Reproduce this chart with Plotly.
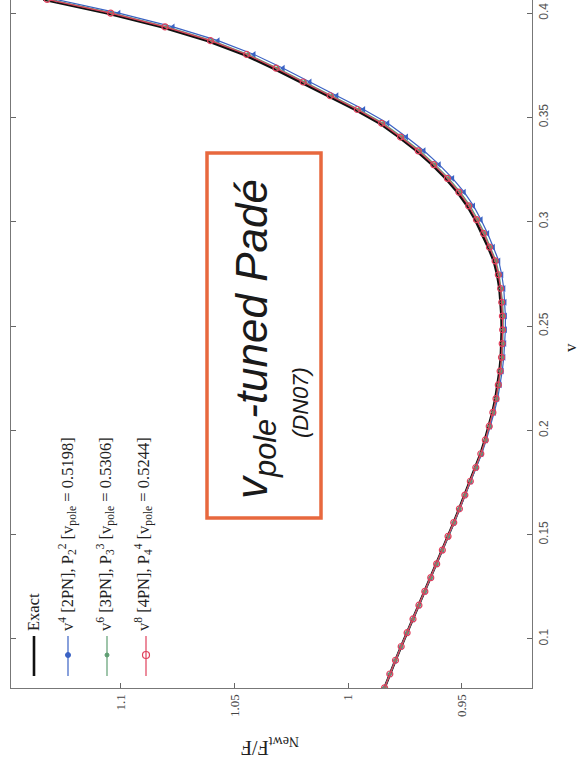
import plotly.graph_objects as go

# ---------------- data ----------------
v_vals = [0.0766, 0.0832, 0.0898, 0.0964, 0.1030, 0.1096, 0.1162, 0.1228, 0.1294, 0.1360,
          0.1426, 0.1492, 0.1558, 0.1624, 0.1690, 0.1756, 0.1822, 0.1888, 0.1954, 0.2020,
          0.2086, 0.2152, 0.2218, 0.2284, 0.2350, 0.2416, 0.2482, 0.2548, 0.2614, 0.2680,
          0.2746, 0.2812, 0.2878, 0.2944, 0.3010, 0.3076, 0.3142, 0.3208, 0.3274, 0.3340,
          0.3406, 0.3472, 0.3538, 0.3604, 0.3670, 0.3736, 0.3802, 0.3868, 0.3934, 0.4000,
          0.4066]

exact = [0.9840, 0.9817, 0.9792, 0.9767, 0.9741, 0.9715, 0.9689, 0.9663, 0.9637, 0.9611,
         0.9586, 0.9561, 0.9536, 0.9512, 0.9488, 0.9464, 0.9440, 0.9418, 0.9399, 0.9382,
         0.9366, 0.9353, 0.9343, 0.9335, 0.9329, 0.9326, 0.9325, 0.9326, 0.9329, 0.9335,
         0.9345, 0.9360, 0.9385, 0.9412, 0.9442, 0.9477, 0.9520, 0.9572, 0.9632, 0.9700,
         0.9778, 0.9862, 0.9970, 1.0090, 1.0210, 1.0330, 1.0460, 1.0620, 1.0820, 1.1060,
         1.1340]

pade_v4 = [0.9840, 0.9817, 0.9792, 0.9767, 0.9741, 0.9715, 0.9689, 0.9662, 0.9636, 0.9610,
           0.9585, 0.9559, 0.9534, 0.9510, 0.9485, 0.9461, 0.9436, 0.9413, 0.9393, 0.9375,
           0.9358, 0.9343, 0.9332, 0.9323, 0.9316, 0.9312, 0.9309, 0.9309, 0.9311, 0.9316,
           0.9325, 0.9338, 0.9362, 0.9387, 0.9416, 0.9449, 0.9490, 0.9541, 0.9600, 0.9667,
           0.9744, 0.9826, 0.9932, 1.0050, 1.0168, 1.0286, 1.0414, 1.0572, 1.0770, 1.1008,
           1.1286]

pade_v6 = [0.9840, 0.9817, 0.9792, 0.9767, 0.9741, 0.9715, 0.9689, 0.9663, 0.9637, 0.9611,
           0.9586, 0.9560, 0.9535, 0.9511, 0.9487, 0.9463, 0.9438, 0.9416, 0.9396, 0.9379,
           0.9362, 0.9348, 0.9338, 0.9330, 0.9323, 0.9320, 0.9318, 0.9318, 0.9321, 0.9327,
           0.9336, 0.9350, 0.9374, 0.9400, 0.9430, 0.9464, 0.9507, 0.9558, 0.9618, 0.9685,
           0.9763, 0.9846, 0.9953, 1.0072, 1.0191, 1.0310, 1.0439, 1.0598, 1.0797, 1.1036,
           1.1315]

pade_v8 = [0.9840, 0.9817, 0.9792, 0.9767, 0.9741, 0.9715, 0.9689, 0.9663, 0.9637, 0.9611,
           0.9586, 0.9561, 0.9536, 0.9511, 0.9487, 0.9463, 0.9439, 0.9417, 0.9397, 0.9380,
           0.9364, 0.9350, 0.9340, 0.9332, 0.9326, 0.9323, 0.9321, 0.9322, 0.9325, 0.9330,
           0.9340, 0.9354, 0.9379, 0.9405, 0.9436, 0.9470, 0.9513, 0.9564, 0.9624, 0.9692,
           0.9770, 0.9853, 0.9960, 1.0079, 1.0198, 1.0317, 1.0446, 1.0605, 1.0805, 1.1044,
           1.1323]

series_names = [
    "Exact",
    "v<sup>4</sup> [2PN], P<sub>2</sub><sup>2</sup> [v<sub>pole</sub> = 0.5198]",
    "v<sup>6</sup> [3PN], P<sub>3</sub><sup>3</sup> [v<sub>pole</sub> = 0.5306]",
    "v<sup>8</sup> [4PN], P<sub>4</sub><sup>4</sup> [v<sub>pole</sub> = 0.5244]",
]
series_colors = ["#111111", "#3a62c4", "#5f9e72", "#e0405c"]

v_ticks = [0.1, 0.15, 0.2, 0.25, 0.3, 0.35, 0.4]
v_ticklabels = ["0.1", "0.15", "0.2", "0.25", "0.3", "0.35", "0.4"]
f_ticks = [0.95, 1.0, 1.05, 1.1]
f_ticklabels = ["0.95", "1", "1.05", "1.1"]

# ---------------- geometry (pixels) ----------------
W, H = 579, 764
L, R, T, B = 11, 47, 0, 76
PW, PH = W - L - R, H - T - B


def px(x):
    return (x - L) / PW


def py(y):
    return (H - B - y) / PH


fig = go.Figure()

# The chart is drawn rotated: F/F_Newt runs horizontally (reversed), v vertically.
fig.add_trace(go.Scatter(x=exact, y=v_vals, mode="lines", name=series_names[0],
                         line=dict(color=series_colors[0], width=2.6), showlegend=False))
fig.add_trace(go.Scatter(x=pade_v4, y=v_vals, mode="lines+markers", name=series_names[1],
                         line=dict(color=series_colors[1], width=1.2),
                         marker=dict(symbol="triangle-left", size=6, color=series_colors[1]),
                         showlegend=False))
fig.add_trace(go.Scatter(x=pade_v6, y=v_vals, mode="lines+markers", name=series_names[2],
                         line=dict(color=series_colors[2], width=1.2),
                         marker=dict(symbol="diamond", size=4, color=series_colors[2]),
                         showlegend=False))
fig.add_trace(go.Scatter(x=pade_v8, y=v_vals, mode="lines+markers", name=series_names[3],
                         line=dict(color=series_colors[3], width=1.2),
                         marker=dict(symbol="circle-open", size=6, color=series_colors[3],
                                     line=dict(width=1.2)),
                         showlegend=False))

shapes = []
annotations = []

# custom rotated legend (bottom-left)
leg_x = [34, 68, 107, 146]
txt_x = [33, 67, 105, 143]
for i, (name, col) in enumerate(zip(series_names, series_colors)):
    shapes.append(dict(type="line", xref="paper", yref="paper",
                       x0=px(leg_x[i]), x1=px(leg_x[i]), y0=py(676), y1=py(636),
                       line=dict(color=col, width=2.6 if i == 0 else 1.2)))
    annotations.append(dict(xref="paper", yref="paper", x=px(txt_x[i]), y=py(633),
                            text=name, textangle=-90, showarrow=False,
                            xanchor="center", yanchor="bottom",
                            font=dict(family="Liberation Serif", size=16.5, color="#222")))
# legend markers
r = 2.5
shapes.append(dict(type="circle", xref="paper", yref="paper",
                   x0=px(leg_x[1] - r), x1=px(leg_x[1] + r), y0=py(655 + r), y1=py(655 - r),
                   fillcolor=series_colors[1], line=dict(color=series_colors[1], width=1)))
r = 2
shapes.append(dict(type="circle", xref="paper", yref="paper",
                   x0=px(leg_x[2] - r), x1=px(leg_x[2] + r), y0=py(655 + r), y1=py(655 - r),
                   fillcolor=series_colors[2], line=dict(color=series_colors[2], width=1)))
r = 3.5
shapes.append(dict(type="circle", xref="paper", yref="paper",
                   x0=px(leg_x[3] - r), x1=px(leg_x[3] + r), y0=py(655 + r), y1=py(655 - r),
                   fillcolor="rgba(0,0,0,0)", line=dict(color=series_colors[3], width=1.2)))

# orange box with label
shapes.append(dict(type="rect", xref="paper", yref="paper",
                   x0=px(207), x1=px(321), y0=py(518), y1=py(153),
                   line=dict(color="#e8683e", width=3.5), fillcolor="rgba(0,0,0,0)"))
annotations.append(dict(xref="paper", yref="paper", x=px(255), y=py(339),
                        text="<i>v<sub>pole</sub>-tuned Padé</i>", textangle=-90,
                        showarrow=False, xanchor="center", yanchor="middle",
                        font=dict(family="Liberation Sans", size=44, color="#1a1a1a")))
annotations.append(dict(xref="paper", yref="paper", x=px(300), y=py(403),
                        text="<i>(DN07)</i>", textangle=-90,
                        showarrow=False, xanchor="center", yanchor="middle",
                        font=dict(family="Liberation Sans", size=22, color="#1a1a1a")))

# axis titles (rotated, as in the scanned figure)
annotations.append(dict(xref="paper", yref="paper", x=px(570), y=py(348),
                        text="v", textangle=-90, showarrow=False,
                        xanchor="center", yanchor="middle",
                        font=dict(family="Liberation Serif", size=17, color="#222")))
annotations.append(dict(xref="paper", yref="paper", x=px(270), y=py(747),
                        text="<sub>Newt</sub>F/F", textangle=180, showarrow=False,
                        xanchor="center", yanchor="middle",
                        font=dict(family="Liberation Serif", size=20, color="#222")))

fig.update_layout(
    width=W, height=H,
    margin=dict(l=L, r=R, t=T, b=B, pad=0),
    paper_bgcolor="white", plot_bgcolor="white",
    shapes=shapes, annotations=annotations,
    showlegend=False,
    xaxis=dict(range=[1.1482, 0.9192], tickvals=f_ticks, ticktext=f_ticklabels,
               ticks="inside", ticklen=5, tickcolor="#666", tickangle=-90,
               showline=True, linecolor="#777", linewidth=1.3, mirror=False,
               showgrid=False, zeroline=False,
               tickfont=dict(family="Liberation Serif", size=13, color="#444")),
    yaxis=dict(range=[0.0765, 0.4063], side="right", tickvals=v_ticks, ticktext=v_ticklabels,
               ticks="inside", ticklen=5, tickcolor="#666", tickangle=-90,
               showline=True, linecolor="#777", linewidth=1.3, mirror="ticks",
               showgrid=False, zeroline=False,
               tickfont=dict(family="Liberation Sans Narrow, Liberation Sans", size=12, color="#555")),
)

fig.write_html("out.html", config={"displayModeBar": False},
               post_script="document.body.style.margin='0';")
